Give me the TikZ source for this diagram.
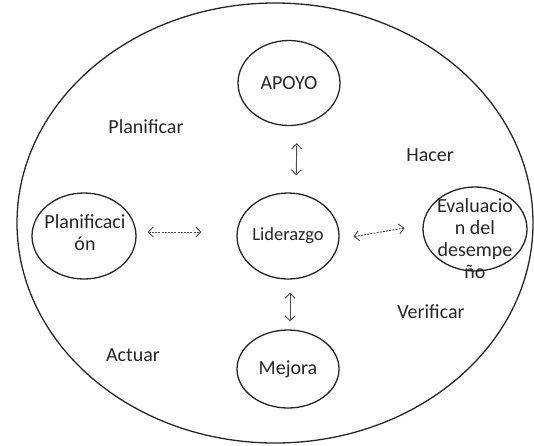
\documentclass[tikz,border=0pt]{standalone}
\usepackage{fontspec}
\setmainfont{Carlito}
\usetikzlibrary{shapes.geometric,arrows.meta}

\tikzset{
  ring/.style={ellipse, draw=black!85, line width=1.3pt, inner sep=0pt,
    font=\fontsize{20}{22}\selectfont, text=black!85},
  phase/.style={font=\fontsize{20}{22}\selectfont, text=black!85, inner sep=0pt},
  twoway/.style={draw=black!70, line width=0.9pt,
    {Straight Barb[length=5pt,width=10pt]}-{Straight Barb[length=5pt,width=10pt]}},
  dashway/.style={twoway, dash pattern=on 2pt off 1.2pt}
}

\begin{document}
\begin{tikzpicture}[x=1pt,y=-1pt]
  \useasboundingbox (0,0) rectangle (534,445);

  % outer cycle
  \node[ellipse, draw=black!85, line width=1.3pt, minimum width=516pt,
        minimum height=440pt, inner sep=0pt] (cycle) at (275,223) {};

  % process circles
  \node[ring, minimum width=102pt, minimum height=85pt] (apoyo) at (289,83) {APOYO};
  \node[ring, minimum width=102pt, minimum height=86pt,
        font=\fontsize{18.5}{22}\selectfont] (lid) at (288,236) {Liderazgo};
  \node[ring, minimum width=102pt, minimum height=78pt] (mejora) at (288,369) {Mejora};
  \node[ring, minimum width=104pt, minimum height=86pt] (plan) at (84,236) {};
  \node[ring, minimum width=104pt, minimum height=84pt] (eval) at (475,229) {};

  % texts of the side circles
  \node[phase, align=center] (plantext) at (85,233) {Planificaci\\ón};
  \node[phase, align=center] (evaltext) at (475,239) {Evaluacio\\n del\\desempe\\ño};

  % PDCA phase labels
  \node[phase] (planificar) at (146,127) {Planificar};
  \node[phase] (hacer) at (430,155) {Hacer};
  \node[phase] (actuar) at (133,355) {Actuar};
  \node[phase] (verificar) at (431,312) {Verificar};

  % two-way links
  \draw[twoway, shorten <=17pt, shorten >=17pt]
    ([xshift=8pt]apoyo.south) -- ([xshift=8pt]lid.north);
  \draw[twoway, shorten <=13pt, shorten >=8pt]
    ([xshift=2pt]lid.south) -- ([xshift=2pt]mejora.north);
  \draw[dashway, shorten <=11pt, shorten >=35pt]
    ([yshift=4pt]plan.east) -- ([yshift=4pt]lid.west);
  \draw[dashway, shorten <=14pt, shorten >=18pt]
    ([yshift=-3pt]lid.east) -- ([yshift=4pt]eval.west);
\end{tikzpicture}
\end{document}
